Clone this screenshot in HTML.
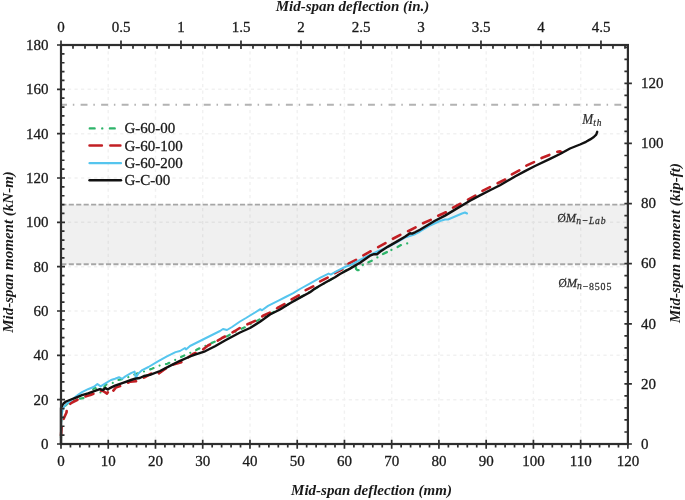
<!DOCTYPE html><html><head><meta charset="utf-8"><style>
html,body{margin:0;padding:0;background:#fff;}
svg{display:block;font-family:"Liberation Serif",serif;will-change:transform;}
</style></head><body>
<svg width="685" height="500" viewBox="0 0 685 500">
<rect width="685" height="500" fill="#fff"/>
<rect x="61.0" y="204.6" width="566.9" height="59.70000000000002" fill="#f0f0f0"/>
<clipPath id="bandclip"><rect x="61.0" y="204.6" width="566.9" height="59.70000000000002"/></clipPath>
<path d="M108.2 45.0V444.0M155.5 45.0V444.0M202.7 45.0V444.0M250.0 45.0V444.0M297.2 45.0V444.0M344.4 45.0V444.0M391.7 45.0V444.0M438.9 45.0V444.0M486.2 45.0V444.0M533.4 45.0V444.0M580.7 45.0V444.0" stroke="#f1f1f1" stroke-width="1.4" stroke-dasharray="3.2 3.33" stroke-dashoffset="0.23" fill="none"/>
<path d="M61.0 399.7H627.9M61.0 355.3H627.9M61.0 311.0H627.9M61.0 266.7H627.9M61.0 222.3H627.9M61.0 178.0H627.9M61.0 133.7H627.9M61.0 89.3H627.9" stroke="#f1f1f1" stroke-width="1.4" stroke-dasharray="3.2 3.33" stroke-dashoffset="6.08" fill="none"/>
<path d="M108.2 45.0V444.0M155.5 45.0V444.0M202.7 45.0V444.0M250.0 45.0V444.0M297.2 45.0V444.0M344.4 45.0V444.0M391.7 45.0V444.0M438.9 45.0V444.0M486.2 45.0V444.0M533.4 45.0V444.0M580.7 45.0V444.0" stroke="#e2e2e2" stroke-width="1.4" stroke-dasharray="3.2 3.33" stroke-dashoffset="0.23" fill="none" clip-path="url(#bandclip)"/>
<path d="M61.0 399.7H627.9M61.0 355.3H627.9M61.0 311.0H627.9M61.0 266.7H627.9M61.0 222.3H627.9M61.0 178.0H627.9M61.0 133.7H627.9M61.0 89.3H627.9" stroke="#e2e2e2" stroke-width="1.4" stroke-dasharray="3.2 3.33" stroke-dashoffset="6.08" fill="none" clip-path="url(#bandclip)"/>
<path d="M61.0 204.6H627.9M61.0 264.3H627.9" stroke="#a6a6a6" stroke-width="1.9" stroke-dasharray="5.1 2.345" stroke-dashoffset="7.145" fill="none"/>
<path d="M61.0 104.8H627.9" stroke="#b3b3b3" stroke-width="1.9" stroke-dasharray="6.9 5.85 1.5 6.28" stroke-dashoffset="0.93" fill="none"/>
<path d="M61.0 444.0 L61.0 425.0 L61.6 412.0 L63.0 410.0 L65.0 406.0 L70.0 401.5 L76.0 399.0 L83.2 398.2 L88.0 394.0 L95.0 387.6 L100.2 392.8 L106.2 384.4 L112.2 383.2 L118.2 380.0 L123.0 379.0 L129.4 376.8 L136.3 373.7 L144.0 371.5 L152.0 368.8 L159.3 365.6 L167.4 363.8 L175.5 359.8 L182.7 356.2 L191.0 352.5 L198.0 349.0 L206.0 345.5 L214.0 342.0 L223.0 338.5 L232.0 333.5 L247.0 326.2 L262.0 318.0 L280.0 309.0 L300.0 297.5 L320.0 286.0 L340.0 274.0 L350.0 268.0 L355.2 265.5" stroke="#2eb46a" stroke-width="2.2" fill="none" stroke-linecap="round" stroke-linejoin="round" stroke-dasharray="3.6 6.55 0 6.55" stroke-dashoffset="10.65"/>
<path d="M355.6 266.6 L356.2 269.2 L357.4 270.2 L358.6 270.1 M368.4 262.2 L371.7 260.8 M383 254 L386.9 252.1 M397.6 247 L400.9 245.1" stroke="#2eb46a" stroke-width="2.3" fill="none" stroke-linecap="round" stroke-linejoin="round"/>
<circle cx="362.8" cy="265" r="1.15" fill="#2eb46a"/>
<circle cx="377.4" cy="257.4" r="1.15" fill="#2eb46a"/>
<circle cx="391.4" cy="250" r="1.15" fill="#2eb46a"/>
<circle cx="407.2" cy="243.4" r="1.15" fill="#2eb46a"/>
<path d="M61.0 436.0 L61.5 428.0 L62.0 423.0 L64.0 418.0 L66.5 412.5 L67.0 407.5 L68.5 405.5 L71.0 403.0 L75.0 401.0 L79.0 399.0 L82.0 397.5 L86.8 396.0 L90.4 395.0 L94.0 393.5 L97.0 392.0 L99.0 390.4 L103.0 391.0 L107.0 393.6 L108.0 392.0 L110.2 394.4 L113.0 391.0 L115.8 387.6 L121.4 385.6 L125.4 384.0 L130.2 381.6 L136.6 381.2 L139.8 379.6 L145.0 377.0 L151.0 373.7 L155.7 372.0 L158.4 373.7 L165.0 369.0 L172.0 365.0 L181.8 362.0 L193.0 354.0 L203.0 349.5 L208.0 345.5 L217.0 341.0 L222.0 338.0 L227.0 335.5 L235.0 331.0 L241.6 326.8 L249.3 323.5 L258.0 319.6 L263.0 315.8 L272.4 311.4 L277.4 308.0 L286.7 303.0 L291.0 299.8 L300.5 294.3 L305.0 290.5 L314.3 285.9 L319.4 281.8 L328.6 277.2 L333.7 273.6 L343.0 269.0 L347.0 264.4 L358.0 258.8 L362.8 255.7 L370.0 251.6 L377.5 247.5 L386.5 242.5 L391.5 239.5 L401.0 234.5 L406.5 232.0 L416.5 227.0 L421.5 224.0 L431.5 219.5 L436.5 216.5 L446.5 212.0 L451.5 208.5 L461.0 203.5 L466.5 200.5 L476.5 195.0 L481.0 191.6 L490.6 186.8 L496.6 183.8 L506.2 179.0 L511.0 174.8 L521.2 169.4 L526.0 165.8 L535.0 161.6 L540.5 158.5 L551.5 154.1 L557.0 151.9 L560.2 151.4 L561.9 152.5" stroke="#c21f24" stroke-width="2.6" fill="none" stroke-linecap="round" stroke-linejoin="round" stroke-dasharray="8.4 8.56" stroke-dashoffset="16.42"/>
<path d="M61.0 444.0 L61.0 425.0 L61.6 415.0 L62.5 410.0 L64.0 407.0 L66.0 404.5 L69.0 402.0 L72.0 399.5 L78.4 394.6 L82.0 392.2 L88.0 389.2 L94.0 386.8 L97.4 384.0 L100.6 386.4 L103.0 384.8 L106.2 382.8 L111.0 380.0 L115.0 378.8 L119.0 377.2 L122.2 378.8 L125.4 376.4 L131.0 373.2 L134.6 371.6 L135.8 377.6 L138.4 373.4 L142.2 370.1 L148.5 367.0 L157.5 361.6 L166.5 356.6 L175.5 352.1 L180.0 351.0 L185.0 348.0 L186.0 349.5 L190.0 346.0 L200.0 341.0 L210.0 336.0 L220.0 331.0 L223.0 329.0 L227.0 330.0 L232.0 327.0 L240.0 321.5 L246.0 318.0 L260.3 309.2 L262.0 310.3 L268.0 305.9 L279.0 300.4 L285.6 297.0 L293.3 293.2 L300.0 289.0 L310.2 283.3 L320.4 277.7 L328.6 273.6 L330.7 274.6 L335.8 271.6 L346.0 266.5 L350.0 265.3 L360.0 260.0 L370.0 254.8 L378.0 251.1 L388.0 246.8 L398.0 241.5 L405.0 237.6 L415.0 234.2 L420.0 231.5 L430.0 225.5 L440.0 221.0 L445.0 219.5 L448.0 219.5 L455.0 216.5 L462.0 213.5 L465.0 212.5 L467.0 213.5" stroke="#55c5ee" stroke-width="2" fill="none" stroke-linecap="round" stroke-linejoin="round"/>
<path d="M61.0 444.0 L61.0 420.0 L61.0 408.0 L62.0 406.0 L63.5 403.5 L66.0 401.5 L71.0 399.5 L76.0 397.6 L82.0 395.2 L88.0 393.4 L95.0 390.8 L99.8 389.2 L103.0 390.0 L105.4 388.0 L107.8 389.6 L109.4 388.4 L115.0 385.6 L123.0 382.8 L131.0 380.0 L135.0 378.7 L139.8 378.0 L144.0 376.0 L150.0 374.9 L160.0 371.0 L170.0 365.9 L180.0 360.8 L190.0 356.5 L195.0 354.6 L205.0 351.3 L215.0 346.2 L225.0 340.5 L240.0 332.5 L250.0 328.0 L260.0 321.7 L270.0 314.5 L280.0 309.5 L290.0 303.2 L300.0 297.6 L310.0 292.2 L315.0 288.5 L325.0 282.8 L335.0 277.3 L340.0 274.0 L350.0 268.6 L360.0 262.8 L370.0 255.7 L374.0 254.2 L377.0 254.2 L380.0 251.8 L388.0 246.6 L398.0 240.9 L405.0 236.8 L410.0 233.2 L412.0 233.6 L415.0 232.3 L420.0 229.8 L435.0 220.7 L445.0 215.6 L455.0 209.6 L470.0 200.8 L480.0 195.4 L490.0 190.3 L500.0 185.3 L515.0 176.5 L525.0 171.1 L535.0 166.0 L550.0 158.8 L560.0 154.0 L570.0 148.5 L580.0 144.5 L586.0 141.8 L590.2 139.4 L593.8 137.0 L596.2 134.6 L597.2 131.8" stroke="#111" stroke-width="2.4" fill="none" stroke-linecap="round" stroke-linejoin="round"/>
<rect x="61.0" y="45.0" width="566.9" height="399.0" fill="none" stroke="#2e2e2e" stroke-width="2.2"/>
<path d="M61.00 439.7V448.8M70.45 444.0V447.4M79.90 444.0V447.4M89.34 444.0V447.4M98.79 444.0V447.4M108.24 439.7V448.8M117.69 444.0V447.4M127.14 444.0V447.4M136.59 444.0V447.4M146.03 444.0V447.4M155.48 439.7V448.8M164.93 444.0V447.4M174.38 444.0V447.4M183.83 444.0V447.4M193.28 444.0V447.4M202.72 439.7V448.8M212.17 444.0V447.4M221.62 444.0V447.4M231.07 444.0V447.4M240.52 444.0V447.4M249.97 439.7V448.8M259.41 444.0V447.4M268.86 444.0V447.4M278.31 444.0V447.4M287.76 444.0V447.4M297.21 439.7V448.8M306.66 444.0V447.4M316.11 444.0V447.4M325.55 444.0V447.4M335.00 444.0V447.4M344.45 439.7V448.8M353.90 444.0V447.4M363.35 444.0V447.4M372.80 444.0V447.4M382.24 444.0V447.4M391.69 439.7V448.8M401.14 444.0V447.4M410.59 444.0V447.4M420.04 444.0V447.4M429.48 444.0V447.4M438.93 439.7V448.8M448.38 444.0V447.4M457.83 444.0V447.4M467.28 444.0V447.4M476.73 444.0V447.4M486.18 439.7V448.8M495.62 444.0V447.4M505.07 444.0V447.4M514.52 444.0V447.4M523.97 444.0V447.4M533.42 439.7V448.8M542.87 444.0V447.4M552.31 444.0V447.4M561.76 444.0V447.4M571.21 444.0V447.4M580.66 439.7V448.8M590.11 444.0V447.4M599.55 444.0V447.4M609.00 444.0V447.4M618.45 444.0V447.4M627.90 439.7V448.8M61.00 40.5V49.0M73.00 45.0V48.8M85.00 45.0V48.8M97.00 45.0V48.8M109.00 45.0V48.8M121.00 40.5V49.0M133.00 45.0V48.8M145.00 45.0V48.8M157.00 45.0V48.8M168.99 45.0V48.8M180.99 40.5V49.0M192.99 45.0V48.8M204.99 45.0V48.8M216.99 45.0V48.8M228.99 45.0V48.8M240.99 40.5V49.0M252.99 45.0V48.8M264.99 45.0V48.8M276.99 45.0V48.8M288.99 45.0V48.8M300.99 40.5V49.0M312.99 45.0V48.8M324.99 45.0V48.8M336.99 45.0V48.8M348.99 45.0V48.8M360.98 40.5V49.0M372.98 45.0V48.8M384.98 45.0V48.8M396.98 45.0V48.8M408.98 45.0V48.8M420.98 40.5V49.0M432.98 45.0V48.8M444.98 45.0V48.8M456.98 45.0V48.8M468.98 45.0V48.8M480.98 40.5V49.0M492.98 45.0V48.8M504.98 45.0V48.8M516.98 45.0V48.8M528.98 45.0V48.8M540.98 40.5V49.0M552.97 45.0V48.8M564.97 45.0V48.8M576.97 45.0V48.8M588.97 45.0V48.8M600.97 40.5V49.0M612.97 45.0V48.8M624.97 45.0V48.8M57.0 444.00H65.0M61.0 435.13H64.5M61.0 426.27H64.5M61.0 417.40H64.5M61.0 408.53H64.5M57.0 399.67H65.0M61.0 390.80H64.5M61.0 381.93H64.5M61.0 373.07H64.5M61.0 364.20H64.5M57.0 355.33H65.0M61.0 346.47H64.5M61.0 337.60H64.5M61.0 328.73H64.5M61.0 319.87H64.5M57.0 311.00H65.0M61.0 302.13H64.5M61.0 293.27H64.5M61.0 284.40H64.5M61.0 275.53H64.5M57.0 266.67H65.0M61.0 257.80H64.5M61.0 248.93H64.5M61.0 240.07H64.5M61.0 231.20H64.5M57.0 222.33H65.0M61.0 213.47H64.5M61.0 204.60H64.5M61.0 195.73H64.5M61.0 186.87H64.5M57.0 178.00H65.0M61.0 169.13H64.5M61.0 160.27H64.5M61.0 151.40H64.5M61.0 142.53H64.5M57.0 133.67H65.0M61.0 124.80H64.5M61.0 115.93H64.5M61.0 107.07H64.5M61.0 98.20H64.5M57.0 89.33H65.0M61.0 80.47H64.5M61.0 71.60H64.5M61.0 62.73H64.5M61.0 53.87H64.5M57.0 45.00H65.0M624.4 444.00H631.9M624.4 431.98H627.9M624.4 419.96H627.9M624.4 407.94H627.9M624.4 395.91H627.9M624.4 383.89H631.9M624.4 371.87H627.9M624.4 359.85H627.9M624.4 347.83H627.9M624.4 335.81H627.9M624.4 323.78H631.9M624.4 311.76H627.9M624.4 299.74H627.9M624.4 287.72H627.9M624.4 275.70H627.9M624.4 263.68H631.9M624.4 251.65H627.9M624.4 239.63H627.9M624.4 227.61H627.9M624.4 215.59H627.9M624.4 203.57H631.9M624.4 191.55H627.9M624.4 179.52H627.9M624.4 167.50H627.9M624.4 155.48H627.9M624.4 143.46H631.9M624.4 131.44H627.9M624.4 119.42H627.9M624.4 107.40H627.9M624.4 95.37H627.9M624.4 83.35H631.9M624.4 71.33H627.9M624.4 59.31H627.9M624.4 47.29H627.9" stroke="#2e2e2e" stroke-width="1.7" fill="none"/>
<g fill="#1a1a1a" stroke="#1a1a1a" stroke-width="0.3">
<path d="M89.8 128.4H117.1" stroke="#2eb46a" stroke-width="2.4" stroke-linecap="round" stroke-dasharray="4.8 7.65 0 7.65" fill="none"/>
<path d="M89.5 145.6H120.4" stroke="#c21f24" stroke-width="2.5" stroke-linecap="round" stroke-dasharray="12.4 8.4" fill="none"/>
<path d="M89.5 163.2H121" stroke="#55c5ee" stroke-width="2.2" stroke-linecap="round" fill="none"/>
<path d="M89.5 180.3H121" stroke="#111" stroke-width="2.4" stroke-linecap="round" fill="none"/>
<text x="124.5" y="133.4" font-size="15" fill="#1a1a1a">G-60-00</text>
<text x="124.5" y="150.6" font-size="15" fill="#1a1a1a">G-60-100</text>
<text x="124.5" y="168.2" font-size="15" fill="#1a1a1a">G-60-200</text>
<text x="124.5" y="185.3" font-size="15" fill="#1a1a1a">G-C-00</text>
<text x="61.0" y="466" font-size="15" text-anchor="middle" fill="#1a1a1a">0</text>
<text x="108.2" y="466" font-size="15" text-anchor="middle" fill="#1a1a1a">10</text>
<text x="155.5" y="466" font-size="15" text-anchor="middle" fill="#1a1a1a">20</text>
<text x="202.7" y="466" font-size="15" text-anchor="middle" fill="#1a1a1a">30</text>
<text x="250.0" y="466" font-size="15" text-anchor="middle" fill="#1a1a1a">40</text>
<text x="297.2" y="466" font-size="15" text-anchor="middle" fill="#1a1a1a">50</text>
<text x="344.4" y="466" font-size="15" text-anchor="middle" fill="#1a1a1a">60</text>
<text x="391.7" y="466" font-size="15" text-anchor="middle" fill="#1a1a1a">70</text>
<text x="438.9" y="466" font-size="15" text-anchor="middle" fill="#1a1a1a">80</text>
<text x="486.2" y="466" font-size="15" text-anchor="middle" fill="#1a1a1a">90</text>
<text x="533.4" y="466" font-size="15" text-anchor="middle" fill="#1a1a1a">100</text>
<text x="580.7" y="466" font-size="15" text-anchor="middle" fill="#1a1a1a">110</text>
<text x="627.9" y="466" font-size="15" text-anchor="middle" fill="#1a1a1a">120</text>
<text x="61.0" y="32" font-size="15" text-anchor="middle" fill="#1a1a1a">0</text>
<text x="121.0" y="32" font-size="15" text-anchor="middle" fill="#1a1a1a">0.5</text>
<text x="181.0" y="32" font-size="15" text-anchor="middle" fill="#1a1a1a">1</text>
<text x="241.0" y="32" font-size="15" text-anchor="middle" fill="#1a1a1a">1.5</text>
<text x="301.0" y="32" font-size="15" text-anchor="middle" fill="#1a1a1a">2</text>
<text x="361.0" y="32" font-size="15" text-anchor="middle" fill="#1a1a1a">2.5</text>
<text x="421.0" y="32" font-size="15" text-anchor="middle" fill="#1a1a1a">3</text>
<text x="481.0" y="32" font-size="15" text-anchor="middle" fill="#1a1a1a">3.5</text>
<text x="541.0" y="32" font-size="15" text-anchor="middle" fill="#1a1a1a">4</text>
<text x="601.0" y="32" font-size="15" text-anchor="middle" fill="#1a1a1a">4.5</text>
<text x="48.5" y="449.0" font-size="15" text-anchor="end" fill="#1a1a1a">0</text>
<text x="48.5" y="404.7" font-size="15" text-anchor="end" fill="#1a1a1a">20</text>
<text x="48.5" y="360.3" font-size="15" text-anchor="end" fill="#1a1a1a">40</text>
<text x="48.5" y="316.0" font-size="15" text-anchor="end" fill="#1a1a1a">60</text>
<text x="48.5" y="271.7" font-size="15" text-anchor="end" fill="#1a1a1a">80</text>
<text x="48.5" y="227.3" font-size="15" text-anchor="end" fill="#1a1a1a">100</text>
<text x="48.5" y="183.0" font-size="15" text-anchor="end" fill="#1a1a1a">120</text>
<text x="48.5" y="138.7" font-size="15" text-anchor="end" fill="#1a1a1a">140</text>
<text x="48.5" y="94.3" font-size="15" text-anchor="end" fill="#1a1a1a">160</text>
<text x="48.5" y="50.0" font-size="15" text-anchor="end" fill="#1a1a1a">180</text>
<text x="640.9" y="448.7" font-size="15" fill="#1a1a1a">0</text>
<text x="640.9" y="388.6" font-size="15" fill="#1a1a1a">20</text>
<text x="640.9" y="328.5" font-size="15" fill="#1a1a1a">40</text>
<text x="640.9" y="268.4" font-size="15" fill="#1a1a1a">60</text>
<text x="640.9" y="208.3" font-size="15" fill="#1a1a1a">80</text>
<text x="640.9" y="148.2" font-size="15" fill="#1a1a1a">100</text>
<text x="640.9" y="88.1" font-size="15" fill="#1a1a1a">120</text>
</g>
<text x="352.5" y="11" font-size="15" font-weight="bold" font-style="italic" text-anchor="middle" fill="#1a1a1a">Mid-span deflection (in.)</text>
<text x="371.5" y="495" font-size="15" font-weight="bold" font-style="italic" text-anchor="middle" fill="#1a1a1a">Mid-span deflection (mm)</text>
<text transform="translate(12.5 252) rotate(-90)" font-size="15" font-weight="bold" font-style="italic" text-anchor="middle" fill="#1a1a1a">Mid-span moment (kN-m)</text>
<text transform="translate(679.9 243) rotate(-90)" font-size="15" font-weight="bold" font-style="italic" text-anchor="middle" fill="#1a1a1a">Mid-span moment (kip-ft)</text>
<g transform="translate(582.3 124.2) scale(0.9 1)" fill="#2e2e2e" stroke="#2e2e2e" stroke-width="0.25"><text font-size="14.5" font-style="italic">M<tspan font-size="10.5" dy="1.4" letter-spacing="1">th</tspan></text></g>
<g transform="translate(557.5 221.8) scale(0.92 1)" fill="#2e2e2e" stroke="#2e2e2e" stroke-width="0.25"><text font-size="13.5" font-style="italic"><tspan font-style="normal" font-size="12.5">&#216;</tspan>M<tspan font-size="10.5" dy="2" letter-spacing="0.8">n&#8722;Lab</tspan></text></g>
<g transform="translate(558.4 287) scale(0.92 1)" fill="#2e2e2e" stroke="#2e2e2e" stroke-width="0.25"><text font-size="13.5" font-style="italic"><tspan font-style="normal" font-size="12.5">&#216;</tspan>M<tspan font-size="10.5" dy="2" letter-spacing="0.8">n</tspan><tspan font-style="normal" font-size="10.8" letter-spacing="0.9" dy="0.5">&#8722;8505</tspan></text></g>
</svg></body></html>
